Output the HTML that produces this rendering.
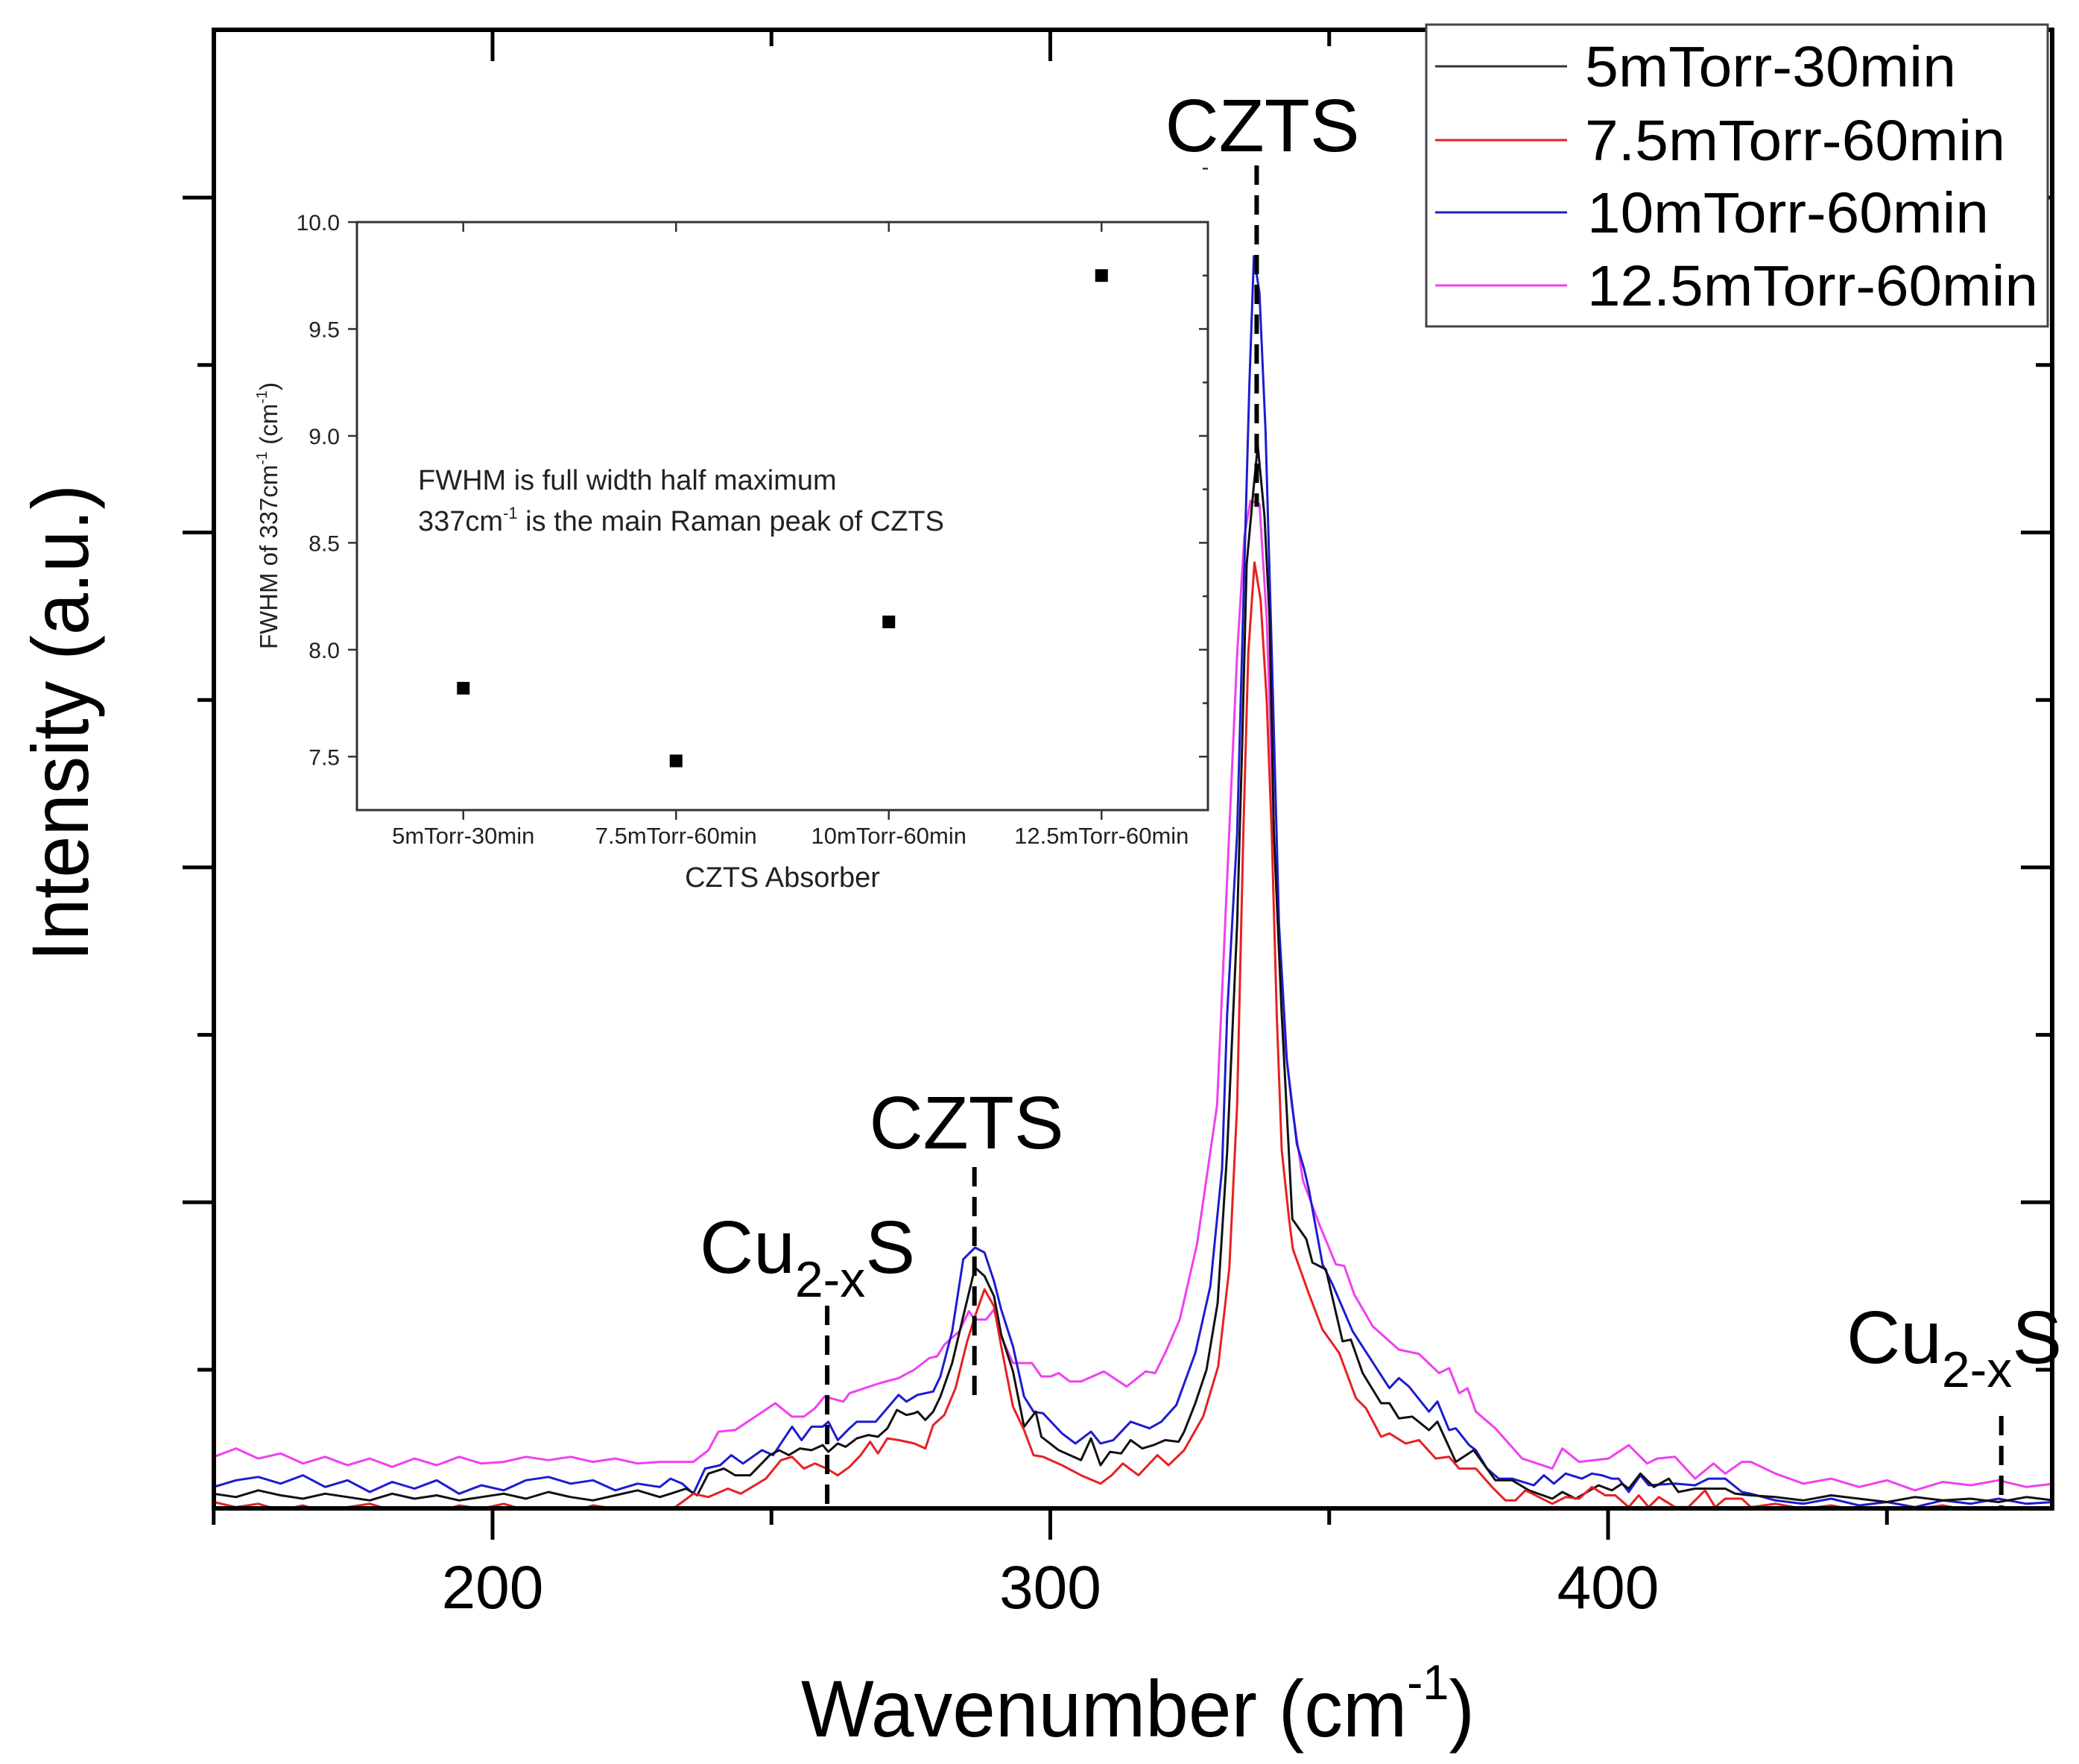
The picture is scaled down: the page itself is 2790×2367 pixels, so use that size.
<!DOCTYPE html>
<html>
<head>
<meta charset="utf-8">
<style>
html,body{margin:0;padding:0;background:#fff;}
svg{display:block;font-family:"Liberation Sans",Arial,sans-serif;}
</style>
</head>
<body>
<svg id="chart" width="2790" height="2367" viewBox="0 0 2790 2367" xmlns="http://www.w3.org/2000/svg">
  <defs>
    <clipPath id="plotClip"><rect x="287" y="40" width="2467" height="1984"/></clipPath>
  </defs>
  <rect x="0" y="0" width="2790" height="2367" fill="#fff"/>
  <g id="traces" clip-path="url(#plotClip)"></g>
  <g id="annotations"></g>
  <g id="mainAxes"></g>
  <g id="inset"></g>

  <text x="0" y="0" transform="translate(118,970) rotate(-90)" text-anchor="middle" font-size="108" textLength="640" lengthAdjust="spacingAndGlyphs">Intensity (a.u.)</text>
  <text x="1075" y="2330" font-size="108" textLength="904" lengthAdjust="spacingAndGlyphs">Wavenumber (cm<tspan font-size="66" dy="-50">-1</tspan><tspan dy="50">)</tspan></text>

  <g>
    <rect x="1914" y="33" width="834" height="405" fill="#fff" stroke="#444" stroke-width="3"/>
    <g>
      <line x1="1926" y1="89" x2="2103" y2="89" stroke="#333" stroke-width="3"/>
      <text x="2127" y="116" font-size="77" textLength="498" lengthAdjust="spacingAndGlyphs">5mTorr-30min</text>
    </g>
    <g>
      <line x1="1926" y1="188" x2="2103" y2="188" stroke="#e02020" stroke-width="3"/>
      <text x="2127" y="215" font-size="77" textLength="564" lengthAdjust="spacingAndGlyphs">7.5mTorr-60min</text>
    </g>
    <g>
      <line x1="1926" y1="285" x2="2103" y2="285" stroke="#2020c0" stroke-width="3"/>
      <text x="2130" y="312" font-size="77" textLength="539" lengthAdjust="spacingAndGlyphs">10mTorr-60min</text>
    </g>
    <g>
      <line x1="1926" y1="383" x2="2103" y2="383" stroke="#f040f0" stroke-width="3"/>
      <text x="2130" y="410" font-size="77" textLength="605" lengthAdjust="spacingAndGlyphs">12.5mTorr-60min</text>
    </g>
  </g>
</svg>
<script>
const xTickValues = [150, 200, 250, 300, 350, 400, 450];
const xTickLabels = ["", "200", "", "300", "", "400", ""];
const yTickValues = [0, 1, 2, 3, 4, 5, 6, 7];

const baseX = [150,154,158,162,166,170,174,178,182,186,190,194,198,202,206,210,214,218,222,226,230];
const tailX = [430,435,440,445,450,455,460,465,470,475,480];

const blackX = baseX.concat([231.9,234.7,236.7,238.7,241.5,243.5,246.2,249.7,251.4,253.1,255.1,257.2,259.2,260.2,261.9,263.3,265.3,267.4,269.1,270.8,272.5,274.2,275.6,276.2,277.6,279,280.3,282.4,284.4,286.5,288.2,289.9,291.2,293.3,295.3,297.4,298.4,301.5,305.5,307.3,309,310.7,312.7,314.4,316.5,318.5,320.6,323,324,326,328,330,331.7,333.5,334.4,335.2,336.4,337.2,338.4,339.3,340.1,341.5,343.4,345.9,347,349.4,352.4,353.9,356,359.3,360.8,362.5,364.9,367.9,369.4,372.7,375.9,379.8,382.8,385.8,390,391.8,394.2,398.3,400.7,402.5,403.7,405.8,408.2,410.9,412.6,415.6,418,421,422.8,425.6]).concat(tailX);
const blackY = [-0.74,-0.76,-0.72,-0.75,-0.77,-0.74,-0.76,-0.78,-0.74,-0.77,-0.75,-0.78,-0.76,-0.74,-0.77,-0.73,-0.76,-0.78,-0.75,-0.72,-0.76,
 -0.74,-0.71,-0.75,-0.62,-0.59,-0.63,-0.63,-0.51,-0.48,-0.51,-0.47,-0.48,-0.45,-0.49,-0.44,-0.46,-0.41,-0.39,-0.40,-0.35,
 -0.24,-0.27,-0.26,-0.25,-0.30,-0.25,-0.16,0.04,0.32,0.61,0.56,0.44,0.21,-0.01,-0.34,-0.25,-0.40,-0.48,-0.54,-0.41,
 -0.57,-0.49,-0.50,-0.42,-0.47,-0.45,-0.42,-0.43,-0.37,-0.2,0.0,0.4,1.3,2.66,3.74,4.81,5.25,5.52,5.1,4.49,
 3.2,2.12,0.9,0.78,0.64,0.60,0.17,0.18,-0.02,-0.20,-0.20,-0.29,-0.28,-0.36,-0.31,-0.55,-0.48,-0.66,-0.66,-0.72,
 -0.77,-0.73,-0.77,-0.69,-0.72,-0.68,-0.71,-0.62,-0.70,-0.65,-0.73,-0.71,-0.71,-0.71,-0.74,-0.75,
 -0.76,-0.78,-0.75,-0.77,-0.79,-0.76,-0.78,-0.77,-0.79,-0.76,-0.78];

const blueX = baseX.concat([231.9,234,236,238.1,240.8,242.8,244.9,248.3,250.3,253.7,255.4,257.2,259.2,260.2,261.9,264,265.3,268.7,272.8,274.2,276.2,279,280.3,282.4,284.4,286.5,288.2,289.9,291.2,293.3,295.3,297,298.7,302.1,304.5,307.3,309,311.3,314.4,317.8,319.9,322.6,326,328.7,330.8,331.7,333.5,334.8,335.7,336.5,337.5,338.6,339.7,341,342.4,344.2,345.5,346.4,348.8,350.6,354.2,360.8,362.5,364.3,367.9,369.4,371.5,372.7,375.1,376.3,378.3,380.4,382.8,386.7,388.5,390.3,392.4,395.3,397.1,398.9,400.7,401.9,403.7,405.8,407.3,412,415.6,418,421,424,425.6]).concat(tailX);
const blueY = [-0.70,-0.66,-0.64,-0.68,-0.63,-0.70,-0.66,-0.73,-0.67,-0.71,-0.66,-0.74,-0.69,-0.72,-0.66,-0.64,-0.68,-0.66,-0.72,-0.68,-0.70,
 -0.65,-0.68,-0.74,-0.59,-0.57,-0.51,-0.56,-0.48,-0.51,-0.34,
 -0.42,-0.34,-0.34,-0.31,-0.42,-0.35,-0.31,-0.31,-0.15,-0.19,
 -0.15,-0.13,-0.04,0.23,0.66,0.73,0.70,0.53,0.36,0.14,
 -0.16,-0.25,-0.26,-0.38,-0.44,-0.37,-0.44,-0.42,-0.31,-0.35,
 -0.31,-0.21,0.1,0.5,1.2,2.12,3.2,4.81,5.89,6.65,
 6.43,5.6,4.28,2.66,1.85,1.35,1.2,1.07,0.63,0.51,
 0.23,-0.11,-0.05,-0.10,-0.25,-0.19,-0.36,-0.35,-0.45,-0.48,
 -0.59,-0.65,-0.65,-0.69,-0.63,-0.68,-0.62,-0.65,-0.62,-0.63,
 -0.65,-0.65,-0.73,-0.63,-0.69,-0.68,-0.69,-0.65,-0.65,-0.73,
 -0.74,
 -0.78,-0.80,-0.77,-0.81,-0.79,-0.82,-0.78,-0.80,-0.77,-0.80,-0.79];

const magentaX = baseX.concat([234,236,238.7,240.5,243.5,250.7,253.7,255.8,257.8,259.5,262.9,264,269.4,272.8,275.6,278.3,279.7,281,283.7,285.4,286.5,288.5,289.9,291.2,293.3,296.7,298.4,300.1,301.5,303.5,305.5,309.6,313.7,317.1,318.8,320.6,323.2,326.3,329.9,331.7,333.5,334.8,335.9,337.5,338.8,340.1,341.5,343.3,345.3,348.2,351.2,352.7,354.5,357.8,362.5,366.1,369.7,371.5,373.3,374.8,376.3,379.8,384.6,390,391.8,394.8,400.1,403.7,407,408.8,412,415.6,418.9,421,424,425.6]).concat(tailX);
const magentaY = [-0.52,-0.47,-0.53,-0.50,-0.56,-0.52,-0.57,-0.53,-0.58,-0.53,-0.57,-0.52,-0.56,-0.55,-0.52,-0.54,-0.52,-0.55,-0.53,-0.56,-0.55,
 -0.55,-0.55,-0.48,-0.37,-0.36,-0.20,-0.28,-0.28,-0.23,-0.16,
 -0.19,-0.14,-0.08,-0.05,0.0,0.07,0.08,0.15,0.23,0.35,
 0.30,0.30,0.36,0.20,0.04,0.04,-0.04,-0.04,-0.02,-0.07,
 -0.07,-0.01,-0.10,-0.01,-0.02,0.10,0.30,0.75,1.58,2.93,
 4.27,4.98,5.19,5.17,4.49,3.20,2.12,1.58,1.13,0.87,
 0.63,0.62,0.45,0.26,0.12,0.095,-0.02,0.01,-0.14,-0.11,
 -0.25,-0.35,-0.53,-0.59,-0.47,-0.55,-0.53,-0.45,-0.56,-0.53,
 -0.52,-0.65,-0.56,-0.62,-0.55,-0.55,
 -0.62,-0.68,-0.65,-0.70,-0.66,-0.72,-0.67,-0.69,-0.66,-0.70,-0.68];

const redX = baseX.concat([231.9,234,236,238.7,242.2,244.5,249,251.7,253.7,255.8,257.8,259.9,261.9,264,266,267.7,269.1,270.8,272.8,275.6,277.6,279,281,283,285.1,286.5,288.2,289.9,291.2,293.3,295.3,297,298.7,302.1,305.5,309,311,313,315.8,319.2,321.2,324,327.4,330.1,332.1,333.5,334.6,335.5,336.6,337.7,338.8,339.7,340.6,341.5,342.8,343.5,346.4,348.8,351.8,354.8,356.6,359.3,360.8,363.7,366.1,369.1,371.5,373.3,376.3,379.2,381.6,383.4,385.2,387.6,390,392.4,394.8,397.1,399.5,401.3,403.7,405.5,407.3,409.1,412,414.4,417.4,419.2,421,424,425.6]).concat(tailX);
const redY = [-0.79,-0.82,-0.80,-0.84,-0.81,-0.85,-0.82,-0.80,-0.84,-0.82,-0.85,-0.81,-0.83,-0.80,-0.84,-0.82,-0.85,-0.81,-0.83,-0.82,-0.84,
 -0.84,-0.79,-0.74,-0.76,-0.71,-0.74,-0.65,-0.54,-0.52,-0.59,
 -0.56,-0.59,-0.63,-0.58,-0.51,-0.43,-0.50,-0.41,-0.42,-0.44,
 -0.47,-0.33,-0.27,-0.11,0.17,0.32,0.48,0.38,0.14,-0.22,
 -0.36,-0.51,-0.52,-0.57,-0.63,-0.68,-0.63,-0.56,-0.63,-0.51,
 -0.57,-0.48,-0.28,0.02,0.61,1.58,3.2,4.28,4.82,4.6,
 4.0,3.2,2.12,1.31,0.9,0.72,0.45,0.24,0.10,-0.17,
 -0.23,-0.40,-0.38,-0.44,-0.42,-0.53,-0.52,-0.59,-0.59,-0.70,
 -0.78,-0.78,-0.72,-0.76,-0.80,-0.76,-0.77,-0.70,-0.75,-0.75,
 -0.82,-0.75,-0.82,-0.76,-0.82,-0.82,-0.72,-0.82,-0.77,-0.77,
 -0.82,
 -0.80,-0.83,-0.81,-0.84,-0.82,-0.83,-0.81,-0.84,-0.82,-0.83,-0.82];

const peakPositions = [260, 286.4, 337, 470.5];

const insetCategories = ["5mTorr-30min", "7.5mTorr-60min", "10mTorr-60min", "12.5mTorr-60min"];
const insetValues = [7.82, 7.48, 8.13, 9.75];
const insetYTicks = [7.5, 8.0, 8.5, 9.0, 9.5, 10.0];
const insetYTickLabels = ["7.5", "8.0", "8.5", "9.0", "9.5", "10.0"];

const PL = 287, PR = 2754, PT = 40, PB = 2024;
function xs(w) { return 661 + (w - 200) * 7.485; }
function ys(v) { return 1838 - v * 224.7; }
const IL = 479, IR = 1621, IT = 298, IB = 1087;
function ixs(i) { return IL + (i + 0.5) * (IR - IL) / 4; }
function iys(v) { return IT + (10.0 - v) * (IB - IT) / 2.75; }

const NS = "http://www.w3.org/2000/svg";
function mk(tag, attrs, parent) {
  const e = document.createElementNS(NS, tag);
  for (const k in attrs) e.setAttribute(k, attrs[k]);
  parent.appendChild(e);
  return e;
}

const traces = document.getElementById("traces");
const seriesList = [
  { name: "trace-12-5mtorr", xv: magentaX, yv: magentaY, color: "#f040f0" },
  { name: "trace-10mtorr", xv: blueX, yv: blueY, color: "#1c1cd0" },
  { name: "trace-5mtorr", xv: blackX, yv: blackY, color: "#111" },
  { name: "trace-7-5mtorr", xv: redX, yv: redY, color: "#e82020" }
];
seriesList.forEach(s => {
  const n = Math.min(s.xv.length, s.yv.length);
  let d = "";
  for (let i = 0; i < n; i++) d += (i ? "L" : "M") + xs(s.xv[i]).toFixed(1) + "," + ys(s.yv[i]).toFixed(1);
  const p = mk("path", { d: d, fill: "none", stroke: s.color, "stroke-width": 3, "stroke-linejoin": "round" }, traces);
  
  
});

const ann = document.getElementById("annotations");
const dashSpecs = [[peakPositions[0], 1752, PB], [peakPositions[1], 1566, 1886], [peakPositions[2], 222, 680], [peakPositions[3], 1900, PB]];
const dashNames = ["cu2xs-left-marker", "czts-287-marker", "czts-337-marker", "cu2xs-right-marker"];
dashSpecs.forEach((d, i) => {
  const l = mk("line", { x1: xs(d[0]), x2: xs(d[0]), y1: d[1], y2: d[2], stroke: "#000", "stroke-width": 6, "stroke-dasharray": "26,14" }, ann);
  
  
});
function cuLabel(x, y, name) {
  const t = mk("text", { x: x, y: y, "font-size": 100 }, ann);
  
  
  t.innerHTML = 'Cu<tspan font-size="68" dy="32">2-x</tspan><tspan dy="-32">S</tspan>';
}
cuLabel(939, 1708, "cu2xs-left-label");
cuLabel(2478, 1829, "cu2xs-right-label");
const cz1 = mk("text", { x: 1297, y: 1541, "font-size": 100, "text-anchor": "middle" }, ann);


cz1.textContent = "CZTS";
const cz2 = mk("text", { x: 1694, y: 203, "font-size": 100, "text-anchor": "middle" }, ann);


cz2.textContent = "CZTS";

const ax = document.getElementById("mainAxes");
const frame = mk("rect", { x: PL, y: PT, width: PR - PL, height: PB - PT, fill: "none", stroke: "#000", "stroke-width": 6 }, ax);


xTickValues.forEach((v, i) => {
  const X = xs(v);
  const len = xTickLabels[i] ? 42 : 22;
  const tb = mk("line", { x1: X, x2: X, y1: PB, y2: PB + len, stroke: "#000", "stroke-width": 5 }, ax);
  
  
  const tt = mk("line", { x1: X, x2: X, y1: PT, y2: PT + len, stroke: "#000", "stroke-width": 5 }, ax);
  
  
  if (xTickLabels[i]) {
    const t = mk("text", { x: X, y: 2158, "font-size": 82, "text-anchor": "middle" }, ax);
    
    
    t.textContent = xTickLabels[i];
  }
});
yTickValues.forEach(v => {
  const Y = ys(v);
  const len = (v % 2 === 1) ? 42 : 22;
  const tl = mk("line", { x1: PL - len, x2: PL, y1: Y, y2: Y, stroke: "#000", "stroke-width": 5 }, ax);
  
  
  const tr = mk("line", { x1: PR - len, x2: PR, y1: Y, y2: Y, stroke: "#000", "stroke-width": 5 }, ax);
  
  
});

const ins = document.getElementById("inset");
const ibox = mk("rect", { x: IL, y: IT, width: IR - IL, height: IB - IT, fill: "none", stroke: "#333", "stroke-width": 3 }, ins);


insetYTicks.forEach((v, i) => {
  const Y = iys(v);
  const a = mk("line", { x1: IL - 12, x2: IL, y1: Y, y2: Y, stroke: "#333", "stroke-width": 2.5 }, ins);
  
  
  const b = mk("line", { x1: IR - 12, x2: IR, y1: Y, y2: Y, stroke: "#333", "stroke-width": 2.5 }, ins);
  
  
  const m = mk("line", { x1: IR - 7, x2: IR, y1: iys(v + 0.25), y2: iys(v + 0.25), stroke: "#333", "stroke-width": 2.5 }, ins);
  
  
  const t = mk("text", { x: 456, y: Y + 11, "font-size": 30, "text-anchor": "end", fill: "#222" }, ins);
  
  
  t.textContent = insetYTickLabels[i];
});
insetCategories.forEach((c, i) => {
  const X = ixs(i);
  const a = mk("line", { x1: X, x2: X, y1: IB, y2: IB + 13, stroke: "#333", "stroke-width": 2.5 }, ins);
  
  
  const b = mk("line", { x1: X, x2: X, y1: IT, y2: IT + 13, stroke: "#333", "stroke-width": 2.5 }, ins);
  
  
  const t = mk("text", { x: X, y: 1132, "font-size": 31, "text-anchor": "middle", fill: "#222" }, ins);
  
  
  t.textContent = c;
});
insetValues.forEach((v, i) => {
  const r = mk("rect", { x: ixs(i) - 8.5, y: iys(v) - 8.5, width: 17, height: 17, fill: "#000" }, ins);
  
  
});
const ixt = mk("text", { x: 1050, y: 1190, "font-size": 38, "text-anchor": "middle", fill: "#222" }, ins);


ixt.textContent = "CZTS Absorber";
const iyt = mk("text", { x: 0, y: 0, transform: "translate(372,692) rotate(-90)", "font-size": 33, "text-anchor": "middle", fill: "#222" }, ins);


iyt.innerHTML = 'FWHM of 337cm<tspan font-size="20" dy="-14">-1</tspan><tspan dy="14"> (cm</tspan><tspan font-size="20" dy="-14">-1</tspan><tspan dy="14">)</tspan>';
const n1 = mk("text", { x: 561, y: 657, "font-size": 38, fill: "#222" }, ins);


n1.textContent = "FWHM is full width half maximum";
const n2 = mk("text", { x: 561, y: 712, "font-size": 38, fill: "#222" }, ins);


n2.innerHTML = '337cm<tspan font-size="22" dy="-16">-1</tspan><tspan dy="16"> is the main Raman peak of CZTS</tspan>';
</script>
</body>
</html>
